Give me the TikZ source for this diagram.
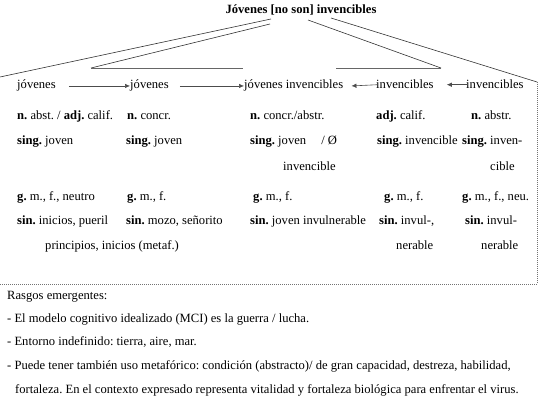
\documentclass[tikz,border=0pt]{standalone}
\usepackage{fontspec}
\setmainfont{Liberation Serif}
\usetikzlibrary{arrows.meta}
\frenchspacing
\begin{document}
\begin{tikzpicture}[x=1pt,y=-1pt,
  txt/.style={anchor=base west,inner sep=0pt,font=\fontsize{12.6}{14}\selectfont},
  ln/.style={draw=black!80,line width=0.6pt},
  hl/.style={draw=black!60,line width=0.8pt},
  dl/.style={draw=black!55,line width=0.8pt,dash pattern=on 1pt off 1pt},
  arr/.style={draw=black!70,line width=0.6pt,-{Latex[length=5pt,width=4.5pt]}}]
\useasboundingbox (0,0) rectangle (538,411);
% title
\node[txt,anchor=base] (title) at (301,14) {\textbf{Jóvenes [no son] invencibles}};
% connector coordinates
\coordinate (tl1) at (271,19);
\coordinate (tl2) at (270,24);
\coordinate (tr1) at (308,20);
\coordinate (tr2) at (331,18);
\coordinate (lout) at (0,77);
\coordinate (lin) at (91,68);
\coordinate (linE) at (243,68);
\coordinate (rin) at (441,68);
\coordinate (rinE) at (336,68);
\coordinate (rc) at (537,82);
\coordinate (rb) at (537,284);
\coordinate (db) at (0,284);
\draw[ln] (tl1) -- (lout);
\draw[ln] (tl2) -- (lin);
\draw[hl] (lin) -- (linE);
\draw[ln] (tr1) -- (rin);
\draw[hl] (rin) -- (rinE);
\draw[ln] (tr2) -- (rc);
\draw[dl] (rc) -- (rb);
\draw[dl] (db) -- (rb);
% word row
\node[txt] (j1) at (17,89) {jóvenes};
\node[txt] (j2) at (130,89) {jóvenes};
\node[txt] (j3) at (244,89) {jóvenes invencibles};
\node[txt] (i1) at (376,89) {invencibles};
\node[txt] (i2) at (466,89) {invencibles};
\draw[arr] ([xshift=13pt]j1.east) -- (j2.west);
\draw[arr] ([xshift=11pt]j2.east) -- (j3.west);
\draw[arr] ([xshift=2pt]i1.west) -- ([xshift=8pt]j3.east);
\draw[arr] ([xshift=2pt]i2.west) -- ([xshift=13pt]i1.east);
% column 1
\node[txt] (a1) at (17,120) {\textbf{n.} abst. / \textbf{adj.} calif.};
\node[txt] (a2) at (17,145) {\textbf{sing.} joven};
\node[txt] (a4) at (17,201) {\textbf{g.} m., f., neutro};
\node[txt] (a5) at (17,225) {\textbf{sin.} inicios, pueril};
\node[txt] (a6) at (45,250) {principios, inicios (metaf.)};
% column 2
\node[txt] (b1) at (127,120) {\textbf{n.} concr.};
\node[txt] (b2) at (126,145) {\textbf{sing.} joven};
\node[txt] (b4) at (127,201) {\textbf{g.} m., f.};
\node[txt] (b5) at (126,225) {\textbf{sin.} mozo, señorito};
% column 3
\node[txt] (c1) at (250,120) {\textbf{n.} concr./abstr.};
\node[txt] (c2) at (250,145) {\textbf{sing.} joven\hspace{1.2em}/ Ø};
\node[txt] (c3) at (283,171) {invencible};
\node[txt] (c4) at (253,201) {\textbf{g.} m., f.};
\node[txt] (c5) at (250,225) {\textbf{sin.} joven invulnerable};
% column 4
\node[txt] (d1) at (376,120) {\textbf{adj.} calif.};
\node[txt] (d2) at (377,145) {\textbf{sing.} invencible};
\node[txt] (d4) at (384,201) {\textbf{g.} m., f.};
\node[txt] (d5) at (379,225) {\textbf{sin.} invul-,};
\node[txt] (d6) at (396,250) {nerable};
% column 5
\node[txt] (e1) at (471,120) {\textbf{n.} abstr.};
\node[txt] (e2) at (462,145) {\textbf{sing.} inven-};
\node[txt] (e3) at (490,171) {cible};
\node[txt] (e4) at (462,201) {\textbf{g.} m., f., neu.};
\node[txt] (e5) at (465,225) {\textbf{sin.} invul-};
\node[txt] (e6) at (481,250) {nerable};
% bottom
\node[txt] (r0) at (7,300) {Rasgos emergentes:};
\node[txt] (r1) at (7,323) {- El modelo cognitivo idealizado (MCI) es la guerra / lucha.};
\node[txt] (r2) at (7,346) {- Entorno indefinido: tierra, aire, mar.};
\node[txt] (r3) at (7,370) {- Puede tener también uso metafórico: condición (abstracto)/ de gran capacidad, destreza, habilidad,};
\node[txt] (r4) at (15,393) {fortaleza. En el contexto expresado representa vitalidad y fortaleza biológica para enfrentar el virus.};
\end{tikzpicture}
\end{document}
